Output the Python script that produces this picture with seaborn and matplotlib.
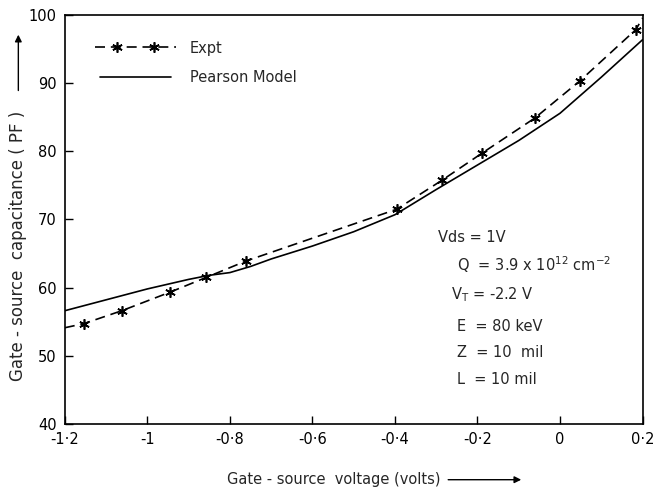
import numpy as np
import pandas as pd
import matplotlib
matplotlib.use("Agg")
import matplotlib.pyplot as plt
import seaborn as sns
from matplotlib.lines import Line2D
from matplotlib.legend_handler import HandlerLine2D, HandlerTuple

# 实验点 (Expt)
expt_x = [-1.154, -1.062, -0.946, -0.857, -0.761, -0.396, -0.285, -0.190, -0.061, 0.049, 0.184]
expt_y = [54.7, 56.6, 59.3, 61.5, 63.9, 71.5, 75.8, 79.7, 84.9, 90.4, 97.9]
# 虚线两端
expt_end_x = [-1.2, 0.2]
expt_end_y = [54.1, 99.6]

# Pearson 模型曲线
model_x = [-1.2, -1.1, -1.0, -0.9, -0.85, -0.8, -0.75, -0.7, -0.6, -0.5, -0.4, -0.3, -0.2, -0.1, 0.0, 0.1, 0.2]
model_y = [56.6, 58.2, 59.8, 61.2, 61.8, 62.2, 63.1, 64.2, 66.1, 68.2, 70.7, 74.4, 78.0, 81.6, 85.6, 90.9, 96.4]

xticks = [-1.2, -1.0, -0.8, -0.6, -0.4, -0.2, 0.0, 0.2]
xtick_labels = ['-1·2', '-1', '-0·8', '-0·6', '-0·4', '-0·2', '0', '0·2']
yticks = [40, 50, 60, 70, 80, 90, 100]

sns.set_style("ticks")
plt.rcParams['font.family'] = ['DejaVu Sans']

expt_df = pd.DataFrame({'x': expt_x, 'y': expt_y})
dash_df = pd.DataFrame({'x': [expt_end_x[0]] + expt_x + [expt_end_x[1]],
                        'y': [expt_end_y[0]] + expt_y + [expt_end_y[1]]})
model_df = pd.DataFrame({'x': model_x, 'y': model_y})

fig = plt.figure(figsize=(6.55, 4.91), dpi=100)
ax = fig.add_axes([0.099, 0.137, 0.882, 0.832])

star = (6, 2, 0)
sns.lineplot(data=dash_df, x='x', y='y', ax=ax, color='black', lw=1.2,
             sort=True, estimator=None)
ax.lines[-1].set_dashes([6, 3.5])
sns.lineplot(data=model_df, x='x', y='y', ax=ax, color='black', lw=1.2,
             sort=True, estimator=None)
ax.plot(expt_df['x'], expt_df['y'], ls='none', marker=star, ms=7.5,
        mec='black', mew=1.2, color='black')

ax.set_xlim(-1.2, 0.2)
ax.set_ylim(40, 100)
ax.set_xticks(xticks)
ax.set_xticklabels(xtick_labels)
ax.set_yticks(yticks)
ax.tick_params(direction='in', length=6, width=1, labelsize=10.5, colors='black', pad=6)
for s in ax.spines.values():
    s.set_linewidth(1.2)
    s.set_color('black')
ax.set_xlabel('')
ax.set_ylabel('')

# 图例：虚线 + 两个星号
h_dash = Line2D([], [], color='black', lw=1.2, ls=(0, (6, 3.5)))
h_mark = Line2D([], [], color='black', ls='none', marker=star, ms=7.5, mew=1.2)
h2 = Line2D([], [], color='black', lw=1.2)
ax.legend([(h_dash, h_mark), h2], ['Expt', 'Pearson Model'], loc='upper left', frameon=False,
          handlelength=5.5, numpoints=2, fontsize=10.5, labelspacing=1.0,
          bbox_to_anchor=(0.03, 0.97), handletextpad=1.0,
          handler_map={tuple: HandlerTuple(ndivide=1, pad=0),
                       h_dash: HandlerLine2D(marker_pad=0),
                       h_mark: HandlerLine2D(marker_pad=1.5)})

# 参数说明
fs = 10.5
ax.text(-0.295, 67.3, 'Vds = 1V', fontsize=fs, ha='left', va='center')
ax.text(-0.25, 63.3, 'Q  = 3.9 x 10$^{12}$ cm$^{-2}$', fontsize=fs, ha='left', va='center')
ax.text(-0.265, 58.9, 'V$_\\mathrm{T}$ = -2.2 V', fontsize=fs, ha='left', va='center')
ax.text(-0.25, 54.3, 'E  = 80 keV', fontsize=fs, ha='left', va='center')
ax.text(-0.25, 50.4, 'Z  = 10  mil', fontsize=fs, ha='left', va='center')
ax.text(-0.25, 46.5, 'L  = 10 mil', fontsize=fs, ha='left', va='center')

# 坐标轴标题及箭头
fig.text(0.028, 0.50, 'Gate - source  capacitance ( PF )', rotation=90,
         fontsize=12, ha='center', va='center')
fig.add_artist(matplotlib.patches.FancyArrowPatch(
    (0.028, 0.81), (0.028, 0.935), transform=fig.transFigure,
    arrowstyle='-|>', mutation_scale=10, color='black', lw=1))
fig.text(0.51, 0.023, 'Gate - source  voltage (volts)', fontsize=10.5,
         ha='center', va='center')
fig.add_artist(matplotlib.patches.FancyArrowPatch(
    (0.68, 0.023), (0.80, 0.023), transform=fig.transFigure,
    arrowstyle='-|>', mutation_scale=10, color='black', lw=1))

fig.savefig('out.png', dpi=100)
